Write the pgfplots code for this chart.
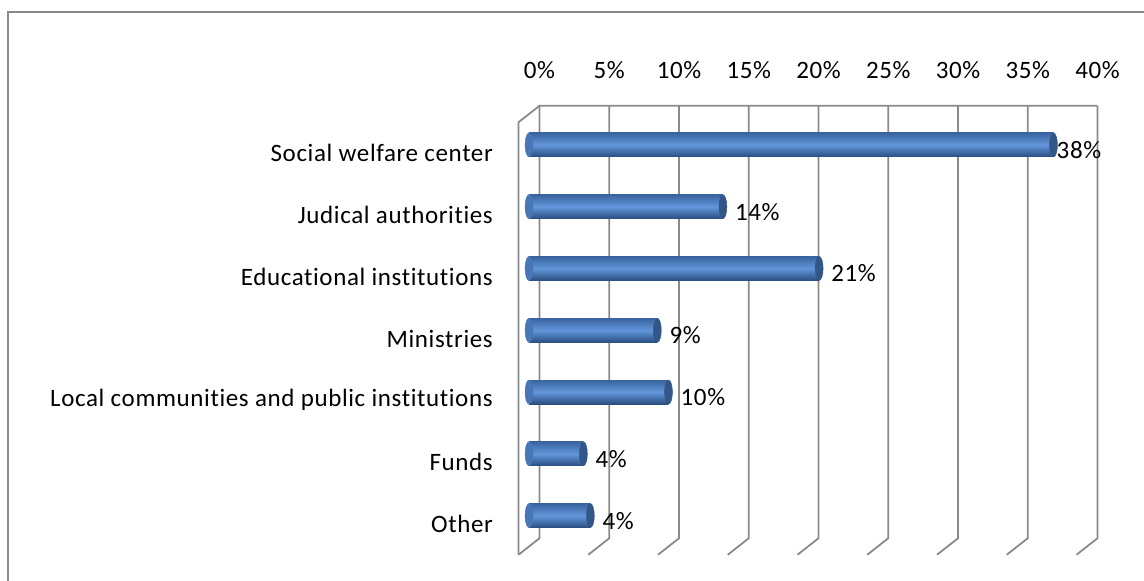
\documentclass[border=0pt]{standalone}
\usepackage{pgfplots}
\usepackage{pgfplotstable}
\pgfplotsset{compat=1.18}
\usepackage{fontspec}
\setmainfont{Carlito}[Ligatures=NoCommon, LetterSpace=2.5]
\definecolor{gridc}{RGB}{138,138,138}
\definecolor{bartop}{RGB}{58,100,160}
\definecolor{barmid}{RGB}{98,150,218}
\definecolor{barbot}{RGB}{42,78,128}
\definecolor{endc}{RGB}{72,118,182}
\definecolor{capc}{RGB}{50,86,136}
\pgfplotstableread{
v y s z
37.6 0 3 0
13.9 1 12 0
20.8 2 12 0
9.2 3 12 0
10.0 4 12 0
3.9 5 12 0
4.4 6 12 0
}\datatab
\newcommand\lbl{\fontsize{25}{29}\selectfont}
\pgfplotsset{cyl/.style={xbar, bar width=24pt, draw=none, bar shift=0pt,
  top color=bartop, bottom color=barbot, middle color=barmid}}
\begin{document}
\begin{tikzpicture}[x=1pt,y=1pt]
\path[use as bounding box] (0,0) rectangle (1144,581);
\draw[gridc, line width=2pt] (8,0) -- (8,569) -- (1144,569);
\begin{axis}[at={(529pt,34.5pt)}, anchor=south west,
  width=558pt, height=432.5pt, scale only axis,
  /pgf/number format/assume math mode=true,
  xmin=0, xmax=40, ymin=-0.5, ymax=6.5, y dir=reverse,
  axis line style={draw=none}, major tick length=0pt,
  clip=false,
  xtick={0,5,...,40}, xticklabel pos=upper,
  xticklabel={\pgfmathprintnumber{\tick}\%},
  xticklabel style={anchor=center, xshift=10.5pt, yshift=44pt, font=\lbl},
  ytick={0,...,6},
  yticklabels={Social welfare center, Judical authorities, Educational institutions, Ministries, Local communities and public institutions, Funds, Other},
  yticklabel style={anchor=east, inner sep=0pt, xshift=-36pt, yshift=-8.25pt, font=\lbl},
]
% back wall grid and floor edges
\pgfplotsinvokeforeach{0,5,10,15,20,25,30,35,40}{
  \draw[gridc, line width=1.8pt]
    ([shift={(10.5pt,8.25pt)}]axis cs:#1,-0.5) --
    ([shift={(10.5pt,8.25pt)}]axis cs:#1,6.5) --
    ([shift={(-10.5pt,-8.25pt)}]axis cs:#1,6.5);
}
\draw[gridc, line width=1.8pt]
  ([shift={(-10.5pt,-8.25pt)}]axis cs:0,6.5) --
  ([shift={(-10.5pt,-8.25pt)}]axis cs:0,-0.5) --
  ([shift={(10.5pt,8.25pt)}]axis cs:0,-0.5) --
  ([shift={(10.5pt,8.25pt)}]axis cs:40,-0.5);
% left rounded ends
\addplot[endc, only marks, mark=*, mark size=12pt,
  mark options={xscale=0.33, draw=endc, fill=endc}]
  table[x=z, y=y] {\datatab};
% bars, one path each so each has its own shading
\addplot[cyl] coordinates {(37.6,0)};
\addplot[cyl] coordinates {(13.9,1)};
\addplot[cyl] coordinates {(20.8,2)};
\addplot[cyl] coordinates {(9.2,3)};
\addplot[cyl] coordinates {(10.0,4)};
\addplot[cyl] coordinates {(3.9,5)};
\addplot[cyl] coordinates {(4.4,6)};
% right end caps and value labels
\addplot[capc, only marks, mark=*, mark size=12pt,
  mark options={xscale=0.33, draw=capc, fill=capc},
  visualization depends on={\thisrow{s} \as \lsh},
  point meta=x,
  nodes near coords={\pgfmathprintnumber[fixed,precision=0]{\pgfplotspointmeta}\%},
  nodes near coords style={anchor=west, inner sep=0pt, xshift=\lsh pt, yshift=-5pt, font=\lbl, text=black}]
  table[x=v, y=y] {\datatab};
\end{axis}
\end{tikzpicture}
\end{document}
